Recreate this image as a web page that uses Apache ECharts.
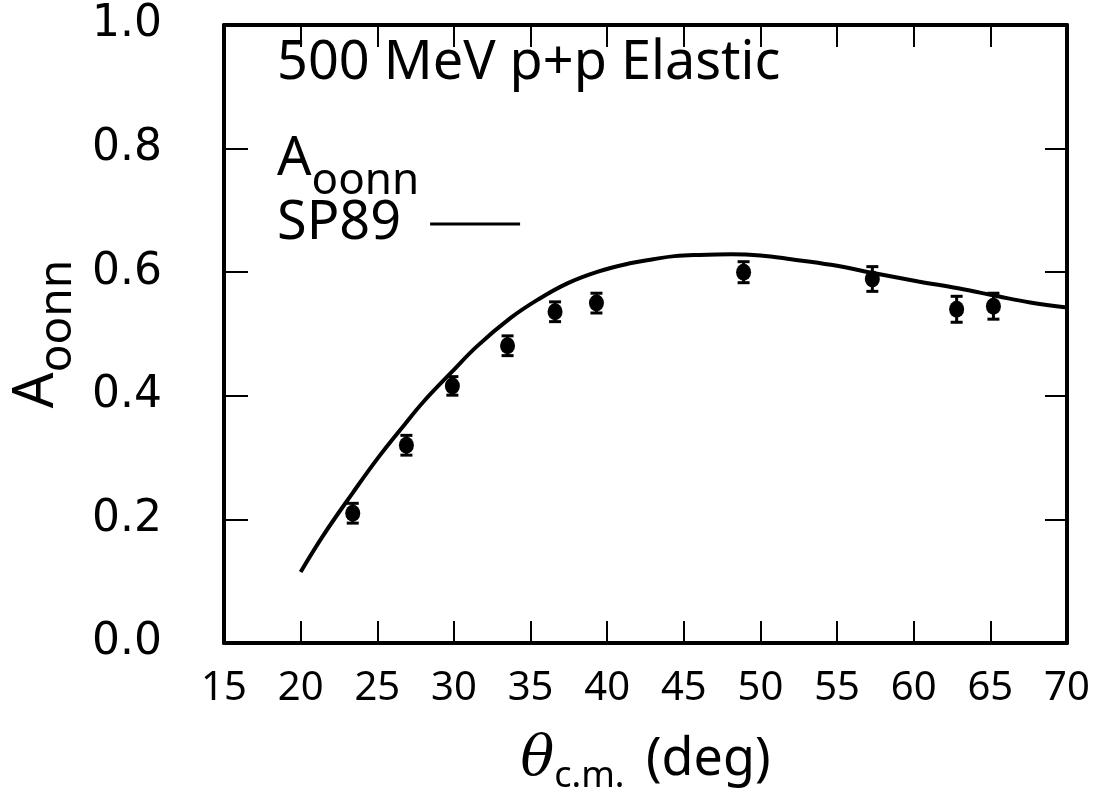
<!DOCTYPE html>
<html>
<head>
<meta charset="utf-8">
<script src="https://cdn.jsdelivr.net/npm/echarts@6/dist/echarts.min.js"></script>
<style>
  html, body { margin: 0; padding: 0; background: #fff; }
  #chart { width: 1097px; height: 801px; }
</style>
</head>
<body>
<div id="chart"></div>
<script>
// measured points: angle (deg), A_oonn, error
const dataAngles = [23.4, 26.9, 29.9, 33.5, 36.6, 39.3, 48.9, 57.3, 62.8, 65.2];
const dataValues = [0.210, 0.320, 0.416, 0.481, 0.536, 0.550, 0.600, 0.589, 0.540, 0.545];
const dataErrors = [0.016, 0.016, 0.015, 0.016, 0.016, 0.016, 0.017, 0.020, 0.021, 0.021];

// SP89 phase-shift curve
const curveAngles = [20, 21.5, 23.4, 25, 26.8, 28, 29.8, 31.5, 33.7, 35.5, 37.4, 39.4, 41.4, 43, 44.4, 46, 48.1, 50, 52, 54.6, 57.7, 60.3, 62.9, 65.5, 67.6, 70];
const curveValues = [0.115, 0.175, 0.243, 0.298, 0.354, 0.390, 0.437, 0.480, 0.526, 0.556, 0.582, 0.601, 0.614, 0.621, 0.626, 0.628, 0.629, 0.627, 0.621, 0.612, 0.597, 0.585, 0.574, 0.561, 0.551, 0.543];

const xTicks = [15, 20, 25, 30, 35, 40, 45, 50, 55, 60, 65, 70];
const yTicks = [0.0, 0.2, 0.4, 0.6, 0.8, 1.0];

const font = 'Noto Sans';
const ink = '#000';

const chart = echarts.init(document.getElementById('chart'));

const frameLine = { show: true, onZero: false, lineStyle: { color: ink, width: 4 } };
const innerTick = (len) => ({ show: true, inside: true, length: len, lineStyle: { color: ink, width: 2 } });

const option = {
  backgroundColor: '#fff',
  animation: false,
  title: [
    {
      text: '500 MeV p+p Elastic',
      left: 272, top: 32,
      textStyle: { fontFamily: font, fontSize: 54, fontWeight: 'normal', color: ink }
    },
    {
      text: 'A{sub|oonn}',
      left: 272, top: 112,
      textStyle: {
        fontFamily: font, fontSize: 54, fontWeight: 'normal', color: ink,
        rich: { sub: { fontFamily: font, fontSize: 44, color: ink, padding: [42, 0, 0, 0] } }
      }
    }
  ],
  legend: {
    data: [{ name: 'SP89', icon: 'rect' }],
    left: 272, top: 192,
    align: 'right',
    itemWidth: 90, itemHeight: 3, itemGap: 0,
    textStyle: { fontFamily: font, fontSize: 54, color: ink, padding: [0, 24, 22, 0] },
    selectedMode: false
  },
  grid: { left: 224, right: 30, top: 25, bottom: 158, containLabel: false, outerBoundsMode: 'none' },
  xAxis: [
    {
      type: 'value', min: 15, max: 70, interval: 5,
      position: 'bottom',
      axisLine: frameLine,
      axisTick: innerTick(22),
      splitLine: { show: false },
      axisLabel: {
        margin: 26, fontFamily: font, fontSize: 40, color: ink,
        formatter: (v) => xTicks.includes(v) ? String(v) : ''
      },
      name: '{it|θ}{sub|c.m.} (deg)',
      nameLocation: 'middle', nameGap: 82,
      nameTextStyle: {
        fontFamily: font, fontSize: 52, color: ink,
        rich: {
          it: { fontFamily: 'DejaVu Serif', fontStyle: 'italic', fontSize: 56, color: ink },
          sub: { fontFamily: font, fontSize: 36, color: ink, padding: [34, 8, 0, 0] }
        }
      }
    },
    {
      type: 'value', min: 15, max: 70, interval: 5,
      position: 'top',
      axisLine: frameLine,
      axisTick: innerTick(22),
      axisLabel: { show: false },
      splitLine: { show: false }
    }
  ],
  yAxis: [
    {
      type: 'value', min: 0, max: 1, interval: 0.2,
      position: 'left',
      axisLine: frameLine,
      axisTick: innerTick(24),
      splitLine: { show: false },
      axisLabel: {
        margin: 62, fontFamily: 'DejaVu Sans', fontSize: 44, color: ink,
        formatter: (v) => yTicks.find(t => Math.abs(t - v) < 1e-9).toFixed(1)
      },
      name: 'A{sub|oonn}',
      nameLocation: 'middle', nameGap: 134, nameRotate: 90,
      nameTextStyle: {
        fontFamily: font, fontSize: 56, color: ink,
        rich: { sub: { fontFamily: font, fontSize: 46, color: ink, padding: [42, 0, 0, 0] } }
      }
    },
    {
      type: 'value', min: 0, max: 1, interval: 0.2,
      position: 'right',
      axisLine: frameLine,
      axisTick: innerTick(22),
      axisLabel: { show: false },
      splitLine: { show: false }
    }
  ],
  series: [
    {
      name: 'SP89',
      type: 'line',
      data: curveAngles.map((x, i) => [x, curveValues[i]]),
      smooth: 0.4,
      showSymbol: false,
      lineStyle: { color: ink, width: 4 },
      itemStyle: { color: ink },
      z: 3
    },
    {
      name: 'errors',
      type: 'custom',
      data: dataAngles.map((x, i) => [x, dataValues[i], dataErrors[i]]),
      renderItem: (params, api) => {
        const x = api.value(0), y = api.value(1), e = api.value(2);
        const top = api.coord([x, y + e]);
        const bot = api.coord([x, y - e]);
        const cap = 6;
        const style = { stroke: ink, lineWidth: 3 };
        return {
          type: 'group',
          children: [
            { type: 'line', shape: { x1: top[0], y1: top[1], x2: bot[0], y2: bot[1] }, style },
            { type: 'line', shape: { x1: top[0] - cap, y1: top[1], x2: top[0] + cap, y2: top[1] }, style },
            { type: 'line', shape: { x1: bot[0] - cap, y1: bot[1], x2: bot[0] + cap, y2: bot[1] }, style }
          ]
        };
      },
      z: 4
    },
    {
      name: 'data',
      type: 'scatter',
      data: dataAngles.map((x, i) => [x, dataValues[i]]),
      symbol: 'circle',
      symbolSize: [15, 17],
      itemStyle: { color: ink, opacity: 1 },
      z: 5
    }
  ]
};

chart.setOption(option);
</script>
</body>
</html>
